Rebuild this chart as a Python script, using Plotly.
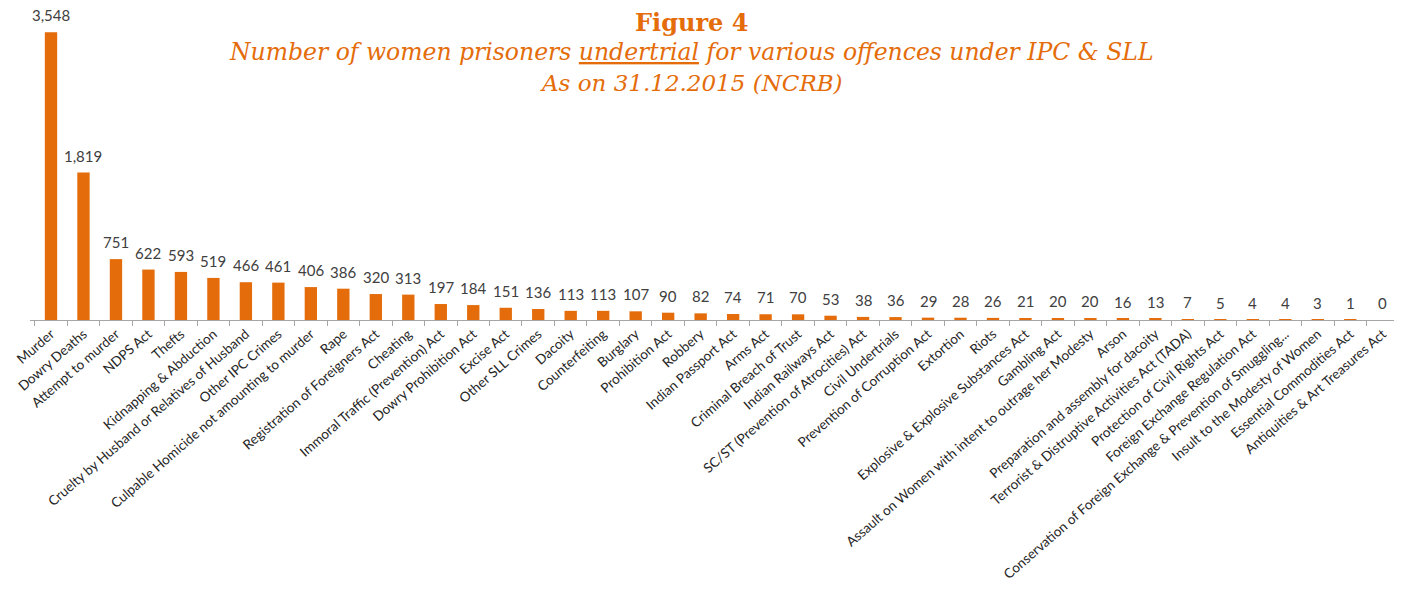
import plotly.graph_objects as go

categories = [
    "Murder", "Dowry Deaths", "Attempt to murder", "NDPS Act", "Thefts",
    "Kidnapping & Abduction", "Cruelty by Husband or Relatives of Husband",
    "Other IPC Crimes", "Culpable Homicide not amounting to murder", "Rape",
    "Registration of Foreigners Act", "Cheating", "Immoral Traffic (Prevention) Act",
    "Dowry Prohibition Act", "Excise Act", "Other SLL Crimes", "Dacoity",
    "Counterfeiting", "Burglary", "Prohibition Act", "Robbery", "Indian Passport Act",
    "Arms Act", "Criminal Breach of Trust", "Indian Railways Act",
    "SC/ST (Prevention of Atrocities) Act", "Civil Undertrials",
    "Prevention of Corruption Act", "Extortion", "Riots",
    "Explosive & Explosive Substances Act", "Gambling Act",
    "Assault on Women with intent to outrage her Modesty", "Arson",
    "Preparation and assembly for dacoity",
    "Terrorist & Distruptive Activities Act (TADA)",
    "Protection of Civil Rights Act", "Foreign Exchange Regulation Act",
    "Conservation of Foreign Exchange & Prevention of Smuggling...",
    "Insult to the Modesty of Women", "Essential Commodities Act",
    "Antiquities & Art Treasures Act",
]
values = [3548, 1819, 751, 622, 593, 519, 466, 461, 406, 386, 320, 313, 197, 184,
          151, 136, 113, 113, 107, 90, 82, 74, 71, 70, 53, 38, 36, 29, 28, 26, 21,
          20, 20, 16, 13, 7, 5, 4, 4, 3, 1, 0]

title_main = "<b>Figure 4</b>"
title_line1 = "<i>Number of women prisoners <u>undertrial</u> for various offences under IPC &amp; SLL</i>"
title_line2 = "<i>As on 31.12.2015 (NCRB)</i>"

ORANGE = "#E46C0A"
OFF = 8  # browser default body margin

fig = go.Figure(go.Bar(
    x=categories, y=values,
    marker=dict(color=ORANGE, line=dict(width=0)),
    hoverinfo="x+y",
))

for c, v in zip(categories, values):
    fig.add_annotation(x=c, y=v, xref="x", yref="y", text=f"{v:,}", showarrow=False,
                       xanchor="center", yanchor="bottom", yshift=6,
                       font=dict(family="Lato, Carlito, sans-serif", size=15, color="#404040"))

W, H = 1402 - OFF, 589 - OFF
ml, mr, mt, mb = 30 - OFF, 3, 20 - OFF, 269
pw = W - ml - mr

def px(xpix):
    return (xpix - OFF - ml) / pw

def py(ypix):
    return 1 + (mt - (ypix - OFF)) / (H - mt - mb)

fig.add_annotation(text=title_main, x=px(691), y=py(22), xref="paper", yref="paper",
                   showarrow=False, xanchor="center", yanchor="middle",
                   font=dict(family="DejaVu Serif, serif", size=24, color=ORANGE))
fig.add_annotation(text=title_line1, x=px(691), y=py(52), xref="paper", yref="paper",
                   showarrow=False, xanchor="center", yanchor="middle",
                   font=dict(family="DejaVu Serif, serif", size=23.5, color=ORANGE))
fig.add_annotation(text=title_line2, x=px(691), y=py(83), xref="paper", yref="paper",
                   showarrow=False, xanchor="center", yanchor="middle",
                   font=dict(family="DejaVu Serif, serif", size=23, color=ORANGE))

fig.update_layout(
    width=W, height=H,
    margin=dict(l=ml, r=mr, t=mt, b=mb, autoexpand=False),
    paper_bgcolor="white", plot_bgcolor="white",
    bargap=0.62, showlegend=False,
    xaxis=dict(
        type="category", tickangle=-41, showline=True, linecolor="#A6A6A6", linewidth=1,
        ticks="outside", tickson="boundaries", ticklen=5, tickcolor="#A6A6A6",
        tickfont=dict(family="Lato, Carlito, sans-serif", size=13.5, color="#262626"),
        showgrid=False, zeroline=False, automargin=False,
    ),
    yaxis=dict(visible=False, range=[0, 3700], showgrid=False, zeroline=False),
)

fig.write_html("out.html")
